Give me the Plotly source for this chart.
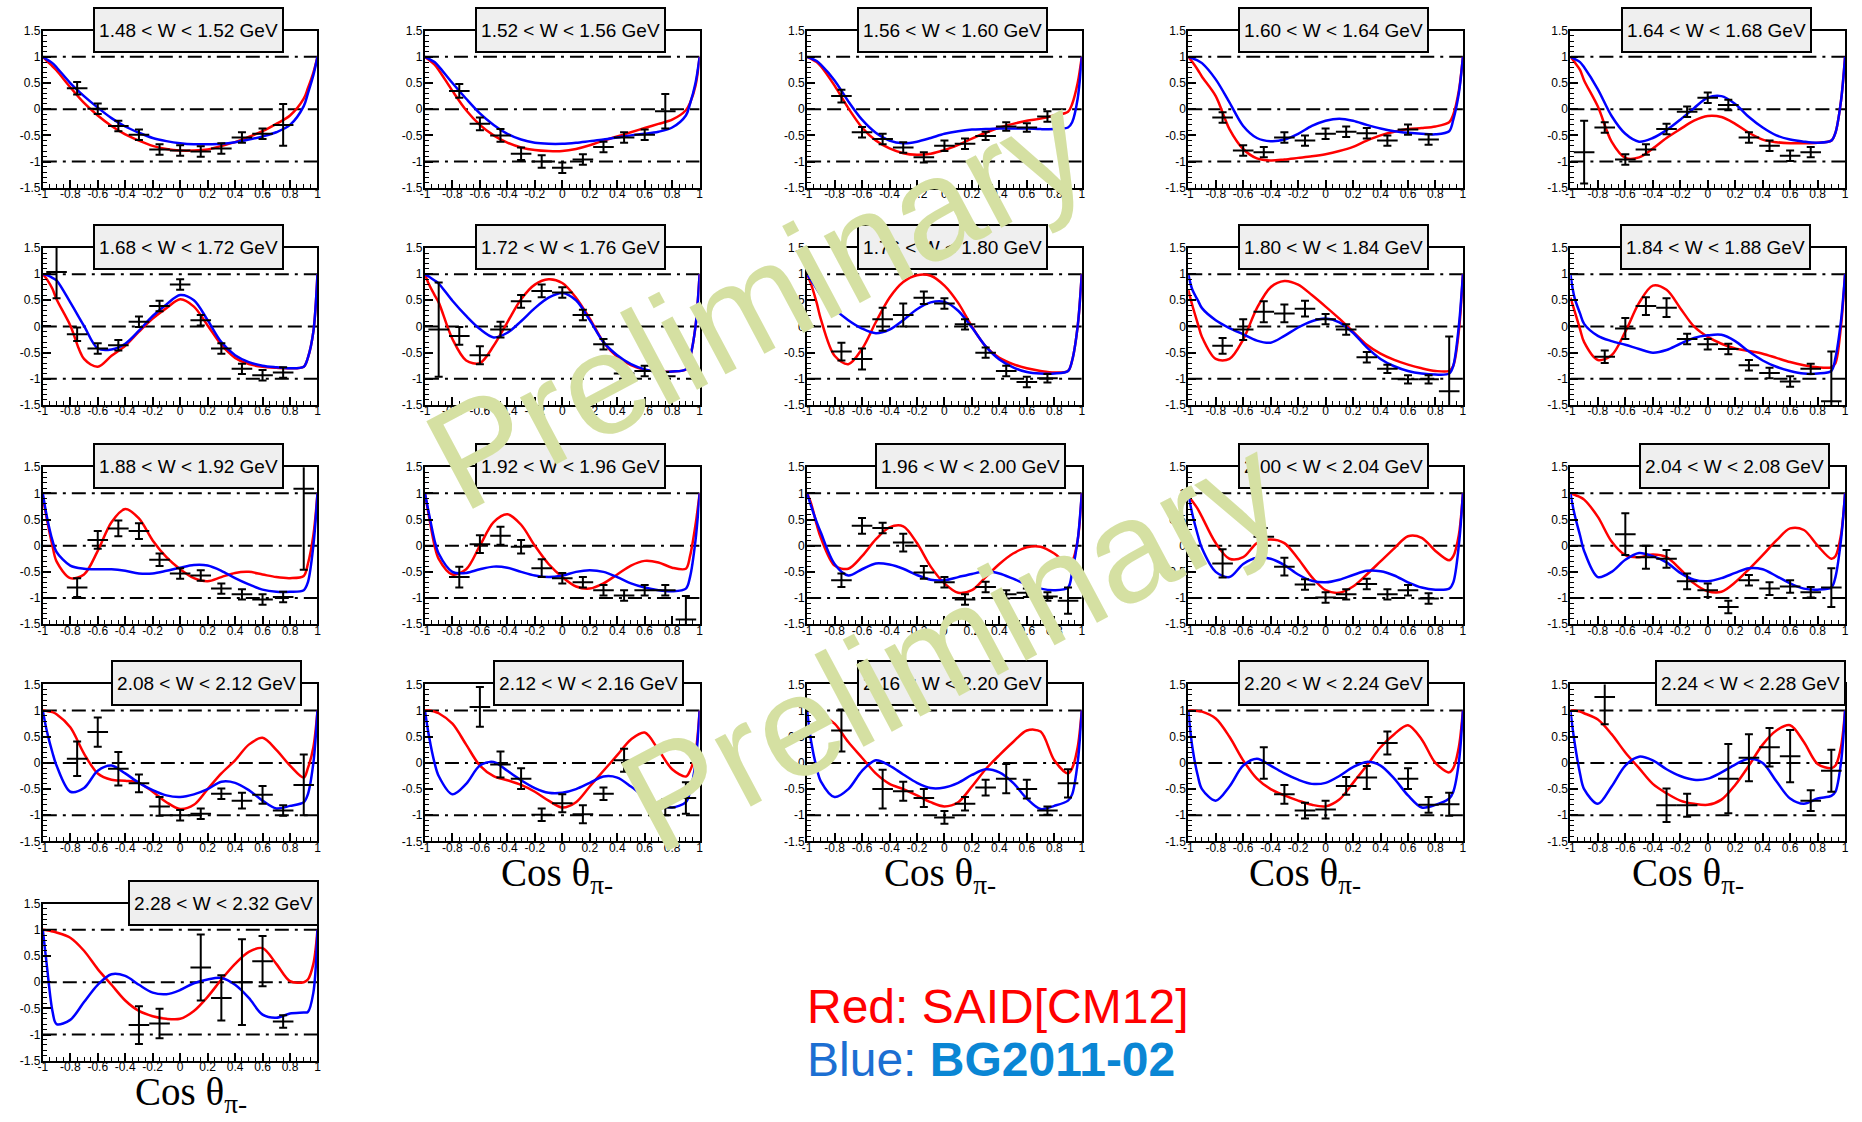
import plotly.graph_objects as go

# ---------------- data ----------------
TITLES = ["1.48 < W < 1.52 GeV", "1.52 < W < 1.56 GeV", "1.56 < W < 1.60 GeV", "1.60 < W < 1.64 GeV",
          "1.64 < W < 1.68 GeV", "1.68 < W < 1.72 GeV", "1.72 < W < 1.76 GeV", "1.76 < W < 1.80 GeV",
          "1.80 < W < 1.84 GeV", "1.84 < W < 1.88 GeV", "1.88 < W < 1.92 GeV", "1.92 < W < 1.96 GeV",
          "1.96 < W < 2.00 GeV", "2.00 < W < 2.04 GeV", "2.04 < W < 2.08 GeV", "2.08 < W < 2.12 GeV",
          "2.12 < W < 2.16 GeV", "2.16 < W < 2.20 GeV", "2.20 < W < 2.24 GeV", "2.24 < W < 2.28 GeV",
          "2.28 < W < 2.32 GeV"]

X_TICKS = [-1, -0.8, -0.6, -0.4, -0.2, 0, 0.2, 0.4, 0.6, 0.8, 1]
X_TICK_TEXT = ["-1", "-0.8", "-0.6", "-0.4", "-0.2", "0", "0.2", "0.4", "0.6", "0.8", "1"]
Y_TICKS = [-1.5, -1, -0.5, 0, 0.5, 1, 1.5]
Y_TICK_TEXT = ["-1.5", "-1", "-0.5", "0", "0.5", "1", "1.5"]
REF_LEVELS = [1, 0, -1]

X_BIN = [-0.9, -0.75, -0.6, -0.45, -0.3, -0.15, 0.0, 0.15, 0.3, 0.45, 0.6, 0.75, 0.9]
BIN_HALF = 0.075
X_CURVE = [-1, -0.97, -0.93, -0.9, -0.8, -0.7, -0.6, -0.5, -0.4, -0.3, -0.2, -0.1, 0,
           0.1, 0.2, 0.3, 0.4, 0.5, 0.6, 0.7, 0.8, 0.9, 0.93, 0.97, 1]

Y01 = [None, 0.4, 0.01, -0.32, -0.49, -0.77, -0.79, -0.81, -0.75, -0.54, -0.47, -0.3, None]
E01 = [None, 0.12, 0.1, 0.1, 0.1, 0.1, 0.1, 0.1, 0.1, 0.1, 0.1, 0.4, None]
RED01 = [1.0, 0.92, 0.82, 0.74, 0.42, 0.12, -0.12, -0.32, -0.48, -0.6, -0.7, -0.76, -0.79, -0.79, -0.77, -0.7, -0.63, -0.53, -0.42, -0.28, -0.12, 0.2, 0.4, 0.7, 1.0]
BLUE01 = [1.0, 0.95, 0.88, 0.8, 0.5, 0.25, 0.03, -0.17, -0.33, -0.45, -0.55, -0.61, -0.65, -0.67, -0.67, -0.66, -0.63, -0.58, -0.52, -0.44, -0.3, 0.06, 0.3, 0.65, 1.0]

Y02 = [None, 0.35, -0.28, -0.5, -0.85, -1.0, -1.12, -0.96, -0.72, -0.54, -0.49, -0.04, None]
E02 = [None, 0.13, 0.12, 0.12, 0.12, 0.12, 0.1, 0.1, 0.1, 0.1, 0.1, 0.33, None]
RED02 = [1.0, 0.94, 0.85, 0.75, 0.35, -0.02, -0.3, -0.5, -0.64, -0.73, -0.78, -0.8, -0.8, -0.76, -0.69, -0.6, -0.52, -0.44, -0.36, -0.28, -0.2, -0.02, 0.12, 0.45, 1.0]
BLUE02 = [1.0, 0.96, 0.9, 0.82, 0.5, 0.2, -0.08, -0.3, -0.47, -0.58, -0.64, -0.66, -0.66, -0.64, -0.61, -0.58, -0.54, -0.5, -0.47, -0.43, -0.35, -0.12, 0.1, 0.5, 1.0]

Y03 = [None, 0.25, -0.44, -0.57, -0.73, -0.92, -0.7, -0.66, -0.51, -0.33, -0.35, -0.14, None]
E03 = [None, 0.12, 0.1, 0.1, 0.1, 0.1, 0.1, 0.1, 0.08, 0.08, 0.08, 0.1, None]
RED03 = [1.0, 0.96, 0.9, 0.82, 0.45, 0.02, -0.35, -0.6, -0.75, -0.84, -0.87, -0.85, -0.78, -0.68, -0.56, -0.45, -0.35, -0.28, -0.22, -0.18, -0.12, -0.05, 0.1, 0.5, 1.0]
BLUE03 = [1.0, 0.97, 0.92, 0.85, 0.55, 0.15, -0.2, -0.45, -0.6, -0.65, -0.62, -0.55, -0.47, -0.42, -0.39, -0.38, -0.37, -0.37, -0.37, -0.38, -0.38, -0.35, -0.25, 0.2, 1.0]

Y04 = [None, -0.16, -0.79, -0.82, -0.54, -0.6, -0.47, -0.43, -0.46, -0.6, -0.39, -0.58, None]
E04 = [None, 0.1, 0.1, 0.1, 0.1, 0.1, 0.1, 0.1, 0.1, 0.1, 0.1, 0.1, None]
RED04 = [1.0, 0.9, 0.75, 0.62, 0.25, -0.38, -0.76, -0.94, -0.98, -0.96, -0.93, -0.9, -0.86, -0.8, -0.72, -0.6, -0.5, -0.43, -0.38, -0.36, -0.33, -0.25, -0.1, 0.35, 1.0]
BLUE04 = [1.0, 0.97, 0.93, 0.88, 0.57, 0.13, -0.32, -0.55, -0.61, -0.58, -0.47, -0.32, -0.22, -0.18, -0.22, -0.3, -0.37, -0.42, -0.45, -0.47, -0.48, -0.42, -0.2, 0.3, 1.0]

Y05 = [-0.82, -0.35, -0.96, -0.77, -0.38, -0.05, 0.22, 0.08, -0.54, -0.7, -0.89, -0.82, None]
E05 = [0.6, 0.1, 0.1, 0.1, 0.1, 0.1, 0.1, 0.1, 0.1, 0.1, 0.1, 0.1, None]
RED05 = [1.0, 0.9, 0.75, 0.55, 0.05, -0.62, -0.93, -0.92, -0.75, -0.55, -0.38, -0.22, -0.13, -0.15, -0.28, -0.45, -0.58, -0.63, -0.65, -0.65, -0.64, -0.6, -0.45, 0.15, 1.0]
BLUE05 = [1.0, 0.96, 0.9, 0.8, 0.38, -0.13, -0.47, -0.62, -0.55, -0.4, -0.2, 0.02, 0.22, 0.25, 0.1, -0.15, -0.35, -0.5, -0.58, -0.62, -0.64, -0.6, -0.45, 0.15, 1.0]

Y06 = [1.04, -0.15, -0.42, -0.36, 0.09, 0.39, 0.8, 0.12, -0.42, -0.81, -0.93, -0.88, None]
E06 = [0.5, 0.13, 0.1, 0.1, 0.1, 0.1, 0.1, 0.1, 0.1, 0.1, 0.1, 0.1, None]
RED06 = [1.0, 0.9, 0.72, 0.52, 0.02, -0.62, -0.77, -0.56, -0.37, -0.1, 0.15, 0.35, 0.52, 0.38, 0.02, -0.35, -0.6, -0.72, -0.77, -0.79, -0.8, -0.77, -0.6, -0.1, 1.0]
BLUE06 = [1.0, 0.98, 0.93, 0.88, 0.46, 0.01, -0.42, -0.44, -0.33, -0.08, 0.2, 0.42, 0.6, 0.5, 0.12, -0.3, -0.55, -0.68, -0.75, -0.78, -0.8, -0.77, -0.6, -0.1, 1.0]

Y07 = [-0.06, -0.18, -0.55, -0.06, 0.48, 0.68, 0.65, 0.22, -0.34, -0.9, -0.85, -0.95, None]
E07 = [0.9, 0.17, 0.17, 0.15, 0.12, 0.12, 0.1, 0.1, 0.1, 0.1, 0.1, 0.08, None]
RED07 = [1.0, 0.8, 0.6, 0.46, -0.24, -0.65, -0.7, -0.37, 0.08, 0.52, 0.8, 0.9, 0.83, 0.55, 0.15, -0.3, -0.58, -0.74, -0.83, -0.86, -0.86, -0.82, -0.6, 0.0, 1.0]
BLUE07 = [1.0, 0.95, 0.88, 0.82, 0.49, 0.2, -0.05, -0.21, -0.12, 0.1, 0.35, 0.55, 0.64, 0.5, 0.12, -0.3, -0.55, -0.72, -0.82, -0.87, -0.86, -0.82, -0.6, 0.0, 1.0]

Y08 = [None, -0.48, -0.62, 0.14, 0.22, 0.55, 0.44, 0.04, -0.5, -0.85, -1.06, -0.99, None]
E08 = [None, 0.17, 0.2, 0.22, 0.22, 0.12, 0.1, 0.1, 0.1, 0.1, 0.1, 0.08, None]
RED08 = [1.0, 0.8, 0.45, 0.14, -0.56, -0.72, -0.43, 0.08, 0.55, 0.85, 0.98, 0.97, 0.78, 0.45, 0.0, -0.38, -0.6, -0.72, -0.8, -0.85, -0.88, -0.85, -0.65, 0.0, 1.0]
BLUE08 = [1.0, 0.88, 0.72, 0.6, 0.33, 0.12, -0.04, -0.13, -0.06, 0.12, 0.33, 0.46, 0.47, 0.3, -0.02, -0.38, -0.63, -0.78, -0.87, -0.9, -0.9, -0.85, -0.65, 0.0, 1.0]

Y09 = [None, -0.37, -0.06, 0.28, 0.25, 0.34, 0.14, -0.06, -0.59, -0.81, -1.01, -1.01, -1.24]
E09 = [None, 0.15, 0.2, 0.2, 0.17, 0.15, 0.1, 0.1, 0.1, 0.08, 0.08, 0.08, 1.05]
RED09 = [0.7, 0.4, 0.05, -0.2, -0.62, -0.62, -0.25, 0.35, 0.75, 0.87, 0.8, 0.6, 0.38, 0.15, -0.1, -0.35, -0.52, -0.64, -0.73, -0.8, -0.85, -0.85, -0.75, -0.1, 1.0]
BLUE09 = [1.0, 0.7, 0.5, 0.35, 0.12, -0.03, -0.15, -0.27, -0.31, -0.18, -0.02, 0.1, 0.15, 0.08, -0.12, -0.4, -0.62, -0.76, -0.85, -0.9, -0.92, -0.9, -0.75, 0.0, 1.0]

Y10 = [None, -0.58, -0.04, 0.39, 0.36, -0.24, -0.34, -0.43, -0.74, -0.89, -1.05, -0.81, -1.43]
E10 = [None, 0.12, 0.2, 0.17, 0.18, 0.1, 0.1, 0.1, 0.1, 0.1, 0.1, 0.1, 0.95]
RED10 = [0.55, 0.3, -0.05, -0.3, -0.64, -0.55, -0.1, 0.45, 0.78, 0.7, 0.35, 0.0, -0.2, -0.33, -0.42, -0.47, -0.52, -0.6, -0.68, -0.74, -0.78, -0.78, -0.7, 0.0, 1.0]
BLUE10 = [1.0, 0.55, 0.25, 0.05, -0.18, -0.28, -0.35, -0.43, -0.5, -0.45, -0.33, -0.22, -0.17, -0.16, -0.28, -0.48, -0.65, -0.77, -0.85, -0.9, -0.9, -0.85, -0.6, 0.1, 1.0]

Y11 = [None, -0.8, 0.11, 0.33, 0.28, -0.27, -0.53, -0.57, -0.82, -0.93, -1.03, -0.98, 1.09]
E11 = [None, 0.18, 0.17, 0.15, 0.15, 0.12, 0.1, 0.1, 0.1, 0.1, 0.1, 0.1, 1.55]
RED11 = [0.95, 0.5, 0.0, -0.3, -0.62, -0.55, -0.1, 0.45, 0.7, 0.52, 0.1, -0.22, -0.45, -0.62, -0.68, -0.6, -0.52, -0.5, -0.55, -0.6, -0.62, -0.58, -0.35, 0.2, 1.0]
BLUE11 = [1.0, 0.55, 0.1, -0.12, -0.38, -0.44, -0.45, -0.45, -0.48, -0.53, -0.53, -0.48, -0.42, -0.37, -0.38, -0.48, -0.62, -0.74, -0.84, -0.88, -0.88, -0.85, -0.7, 0.0, 1.0]

Y12 = [None, -0.6, 0.03, 0.19, -0.02, -0.43, -0.62, -0.7, -0.85, -0.95, -0.85, -0.85, -1.41]
E12 = [None, 0.2, 0.17, 0.17, 0.13, 0.17, 0.1, 0.1, 0.1, 0.1, 0.1, 0.1, 0.45]
RED12 = [1.0, 0.55, 0.0, -0.25, -0.55, -0.45, 0.0, 0.45, 0.6, 0.4, 0.0, -0.35, -0.6, -0.78, -0.82, -0.72, -0.55, -0.38, -0.29, -0.32, -0.42, -0.44, -0.2, 0.4, 1.0]
BLUE12 = [1.0, 0.6, 0.1, -0.15, -0.5, -0.52, -0.45, -0.4, -0.42, -0.5, -0.57, -0.6, -0.57, -0.5, -0.47, -0.5, -0.6, -0.72, -0.8, -0.85, -0.87, -0.82, -0.6, 0.1, 1.0]

Y13 = [None, -0.66, 0.38, 0.34, 0.06, -0.51, -0.7, -1.03, -0.79, -0.93, -0.9, -0.97, -1.05]
E13 = [None, 0.13, 0.15, 0.1, 0.17, 0.12, 0.1, 0.1, 0.1, 0.08, 0.08, 0.08, 0.25]
RED13 = [1.0, 0.8, 0.4, 0.15, -0.38, -0.44, -0.2, 0.12, 0.35, 0.37, 0.05, -0.4, -0.72, -0.9, -0.85, -0.6, -0.35, -0.15, -0.03, -0.02, -0.15, -0.35, -0.3, 0.1, 1.0]
BLUE13 = [1.0, 0.75, 0.45, 0.25, -0.35, -0.57, -0.45, -0.34, -0.36, -0.44, -0.56, -0.65, -0.66, -0.6, -0.54, -0.49, -0.53, -0.63, -0.74, -0.82, -0.85, -0.8, -0.5, 0.1, 1.0]

Y14 = [None, -0.34, None, 0.17, -0.4, -0.74, -0.99, -0.93, -0.73, -0.93, -0.85, -1.01, None]
E14 = [None, 0.27, None, 0.17, 0.17, 0.1, 0.1, 0.1, 0.1, 0.1, 0.1, 0.1, None]
RED14 = [0.95, 0.85, 0.7, 0.55, 0.05, -0.25, -0.22, 0.05, 0.12, 0.05, -0.25, -0.6, -0.85, -0.9, -0.78, -0.55, -0.3, -0.05, 0.18, 0.15, -0.1, -0.28, -0.2, 0.2, 1.0]
BLUE14 = [1.0, 0.6, 0.2, -0.05, -0.5, -0.6, -0.35, -0.23, -0.25, -0.37, -0.55, -0.67, -0.7, -0.65, -0.56, -0.48, -0.49, -0.57, -0.7, -0.8, -0.84, -0.82, -0.7, 0.0, 1.0]

Y15 = [None, None, 0.22, -0.22, -0.25, -0.68, -0.85, -1.17, -0.66, -0.82, -0.78, -0.89, -0.8]
E15 = [None, None, 0.4, 0.22, 0.17, 0.15, 0.13, 0.12, 0.1, 0.12, 0.12, 0.1, 0.37]
RED15 = [1.0, 0.97, 0.93, 0.88, 0.55, 0.08, -0.18, -0.22, -0.17, -0.22, -0.45, -0.72, -0.87, -0.88, -0.7, -0.45, -0.18, 0.1, 0.33, 0.3, 0.0, -0.25, -0.2, 0.2, 1.0]
BLUE15 = [1.0, 0.6, 0.2, -0.1, -0.6, -0.5, -0.27, -0.14, -0.2, -0.32, -0.52, -0.65, -0.68, -0.62, -0.52, -0.43, -0.45, -0.58, -0.72, -0.82, -0.84, -0.8, -0.6, 0.1, 1.0]

Y16 = [None, 0.08, 0.59, -0.11, -0.39, -0.83, -1.0, -0.97, -0.59, -0.72, -0.61, -0.91, -0.42]
E16 = [None, 0.33, 0.28, 0.32, 0.17, 0.18, 0.1, 0.1, 0.1, 0.15, 0.17, 0.1, 0.58]
RED16 = [1.0, 0.99, 0.97, 0.93, 0.68, 0.18, -0.2, -0.32, -0.34, -0.38, -0.55, -0.75, -0.88, -0.8, -0.5, -0.2, 0.05, 0.35, 0.48, 0.25, -0.05, -0.28, -0.1, 0.3, 1.0]
BLUE16 = [1.0, 0.6, 0.2, -0.05, -0.55, -0.48, -0.15, -0.05, -0.2, -0.38, -0.52, -0.62, -0.65, -0.6, -0.5, -0.36, -0.38, -0.52, -0.72, -0.87, -0.82, -0.75, -0.6, 0.0, 1.0]

Y17 = [None, None, 1.07, -0.03, -0.3, -0.99, -0.77, -0.98, -0.59, 0.05, None, -0.85, -0.67]
E17 = [None, None, 0.38, 0.25, 0.2, 0.12, 0.17, 0.17, 0.12, 0.22, None, 0.15, 0.3]
RED17 = [1.0, 1.0, 0.98, 0.95, 0.75, 0.35, -0.05, -0.25, -0.33, -0.42, -0.55, -0.72, -0.85, -0.75, -0.45, -0.15, 0.15, 0.45, 0.58, 0.25, -0.12, -0.26, -0.15, 0.2, 1.0]
BLUE17 = [1.0, 0.5, 0.0, -0.25, -0.6, -0.4, -0.05, 0.02, -0.15, -0.33, -0.48, -0.57, -0.57, -0.5, -0.38, -0.26, -0.28, -0.45, -0.65, -0.8, -0.85, -0.75, -0.55, 0.0, 1.0]

Y18 = [None, 0.62, None, -0.5, -0.54, -0.67, -1.04, -0.78, -0.47, -0.3, -0.5, -0.91, -0.39]
E18 = [None, 0.4, None, 0.37, 0.18, 0.17, 0.12, 0.13, 0.15, 0.28, 0.18, 0.08, 0.27]
RED18 = [1.0, 0.98, 0.95, 0.93, 0.75, 0.4, 0.1, -0.2, -0.4, -0.5, -0.62, -0.75, -0.83, -0.75, -0.45, -0.12, 0.15, 0.4, 0.62, 0.6, 0.05, -0.2, -0.1, 0.3, 1.0]
BLUE18 = [1.0, 0.4, -0.1, -0.35, -0.65, -0.5, -0.15, 0.05, -0.05, -0.22, -0.38, -0.48, -0.47, -0.38, -0.23, -0.12, -0.18, -0.38, -0.68, -0.88, -0.82, -0.72, -0.6, 0.0, 1.0]

Y19 = [None, None, None, 0.0, -0.6, -0.91, -0.89, -0.44, -0.28, 0.38, -0.3, -0.8, -0.79]
E19 = [None, None, None, 0.3, 0.18, 0.15, 0.17, 0.17, 0.22, 0.22, 0.2, 0.15, 0.22]
RED19 = [1.0, 1.0, 0.99, 0.98, 0.85, 0.5, 0.05, -0.3, -0.5, -0.62, -0.72, -0.8, -0.83, -0.7, -0.38, -0.05, 0.3, 0.55, 0.72, 0.45, 0.0, -0.18, -0.1, 0.3, 1.0]
BLUE19 = [1.0, 0.3, -0.25, -0.5, -0.72, -0.45, -0.05, 0.08, -0.05, -0.2, -0.32, -0.4, -0.38, -0.25, -0.08, 0.02, -0.05, -0.3, -0.62, -0.85, -0.8, -0.68, -0.55, 0.0, 1.0]

Y20 = [None, 1.26, None, None, -0.81, -0.81, None, -0.3, 0.1, 0.3, 0.13, -0.72, -0.15]
E20 = [None, 0.52, None, None, 0.32, 0.22, None, 0.66, 0.45, 0.37, 0.5, 0.2, 0.4]
RED20 = [1.0, 1.0, 0.98, 0.95, 0.83, 0.55, 0.2, -0.1, -0.4, -0.58, -0.72, -0.78, -0.8, -0.7, -0.42, -0.05, 0.35, 0.62, 0.72, 0.4, -0.02, -0.1, -0.05, 0.3, 1.0]
BLUE20 = [1.0, 0.4, -0.2, -0.5, -0.78, -0.45, -0.05, 0.12, 0.05, -0.12, -0.25, -0.32, -0.3, -0.18, -0.03, 0.08, 0.0, -0.35, -0.68, -0.78, -0.68, -0.63, -0.55, 0.0, 1.0]

Y21 = [None, None, None, None, -0.82, -0.79, None, 0.28, -0.3, 0.0, 0.4, -0.75, None]
E21 = [None, None, None, None, 0.36, 0.28, None, 0.63, 0.43, 0.82, 0.48, 0.12, None]
RED21 = [1.0, 0.99, 0.97, 0.95, 0.85, 0.6, 0.25, -0.05, -0.35, -0.55, -0.65, -0.7, -0.7, -0.55, -0.28, 0.05, 0.35, 0.58, 0.65, 0.35, 0.02, 0.0, 0.05, 0.35, 1.0]
BLUE21 = [1.0, 0.3, -0.55, -0.8, -0.72, -0.38, -0.05, 0.15, 0.12, -0.05, -0.2, -0.23, -0.15, -0.02, 0.05, 0.08, -0.05, -0.3, -0.62, -0.68, -0.6, -0.58, -0.57, -0.2, 1.0]

Y_DATA = [Y01, Y02, Y03, Y04, Y05, Y06, Y07, Y08, Y09, Y10, Y11, Y12, Y13, Y14, Y15, Y16, Y17, Y18, Y19, Y20, Y21]
E_DATA = [E01, E02, E03, E04, E05, E06, E07, E08, E09, E10, E11, E12, E13, E14, E15, E16, E17, E18, E19, E20, E21]
RED_CURVES = [RED01, RED02, RED03, RED04, RED05, RED06, RED07, RED08, RED09, RED10, RED11, RED12, RED13, RED14,
              RED15, RED16, RED17, RED18, RED19, RED20, RED21]
BLUE_CURVES = [BLUE01, BLUE02, BLUE03, BLUE04, BLUE05, BLUE06, BLUE07, BLUE08, BLUE09, BLUE10, BLUE11, BLUE12,
               BLUE13, BLUE14, BLUE15, BLUE16, BLUE17, BLUE18, BLUE19, BLUE20, BLUE21]

# ---------------- layout constants ----------------
FIG_W, FIG_H = 1862, 1122
COL_LEFT = [38, 422, 806, 1189, 1573]
ROW_TOP = [24, 244, 466, 686, 908]
PANEL_W, PANEL_H = 276, 159
TITLE_OFFSET = [146, 146, 146, 146, 147,
                146, 146, 146, 146, 146,
                146, 146, 164, 146, 165,
                164, 164, 146, 146, 181,
                182]
COS_LABEL_POS = [(555, 879), (940, 879), (1306, 879), (1691, 879), (187, 1101)]
RED = "#ff0000"
BLUE = "#0000ff"
FONT = "Liberation Sans, Arial, Helvetica, sans-serif"

fig = go.Figure()
layout = dict(width=FIG_W, height=FIG_H, margin=dict(l=0, r=0, t=0, b=0),
              paper_bgcolor="white", plot_bgcolor="white", showlegend=False)
shapes = []
annotations = []

for i in range(21):
    row, col = divmod(i, 5)
    left = COL_LEFT[col]
    top = ROW_TOP[row]
    sfx = "" if i == 0 else str(i + 1)
    xref, yref = "x" + sfx, "y" + sfx
    layout["xaxis" + sfx] = dict(
        domain=[left / FIG_W, (left + PANEL_W) / FIG_W], range=[-1, 1], anchor=yref,
        showgrid=False, zeroline=False, showline=True, mirror=True, linecolor="black", linewidth=2,
        ticks="inside", ticklen=8, tickwidth=1.5, tickcolor="black",
        tickvals=X_TICKS, ticktext=X_TICK_TEXT, tickfont=dict(family=FONT, size=12, color="black"),
        ticklabelstandoff=-6,
        minor=dict(ticks="inside", ticklen=4, dtick=0.05, tickcolor="black", tickwidth=1, showgrid=False),
        fixedrange=True)
    layout["yaxis" + sfx] = dict(
        domain=[1 - (top + PANEL_H) / FIG_H, 1 - top / FIG_H], range=[-1.5, 1.5], anchor=xref,
        showgrid=False, zeroline=False, showline=True, mirror=True, linecolor="black", linewidth=2,
        ticks="inside", ticklen=8, tickwidth=1.5, tickcolor="black",
        tickvals=Y_TICKS, ticktext=Y_TICK_TEXT, tickfont=dict(family=FONT, size=12, color="black"),
        ticklabelstandoff=-2,
        minor=dict(ticks="inside", ticklen=4, dtick=0.1, tickcolor="black", tickwidth=1, showgrid=False),
        fixedrange=True)

    for lvl in REF_LEVELS:
        dash = "14px,6px,3px,6px" if lvl != 0 else "14px,6px,14px,6px,3px,6px"
        shapes.append(dict(type="line", xref=xref, yref=yref, x0=-1, x1=1, y0=lvl, y1=lvl,
                           line=dict(color="black", width=2, dash=dash), layer="below"))

    fig.add_trace(go.Scatter(x=X_CURVE, y=RED_CURVES[i], mode="lines", xaxis=xref, yaxis=yref,
                             line=dict(color=RED, width=2.5, shape="spline", smoothing=0.9),
                             hoverinfo="skip"))
    fig.add_trace(go.Scatter(x=X_CURVE, y=BLUE_CURVES[i], mode="lines", xaxis=xref, yaxis=yref,
                             line=dict(color=BLUE, width=2.5, shape="spline", smoothing=0.9),
                             hoverinfo="skip"))

    xs = [x for x, y in zip(X_BIN, Y_DATA[i]) if y is not None]
    ys = [y for y in Y_DATA[i] if y is not None]
    es = [e for y, e in zip(Y_DATA[i], E_DATA[i]) if y is not None]
    fig.add_trace(go.Scatter(x=xs, y=ys, mode="markers", xaxis=xref, yaxis=yref,
                             marker=dict(size=2, color="black"),
                             error_x=dict(type="constant", value=BIN_HALF, width=0, thickness=2, color="black"),
                             error_y=dict(type="data", array=es, width=4, thickness=2, color="black"),
                             hoverinfo="skip"))

    annotations.append(dict(text=TITLES[i], xref="paper", yref="paper",
                            x=(left + TITLE_OFFSET[i]) / FIG_W, y=1 - (top - 1) / FIG_H,
                            xanchor="center", yanchor="middle", showarrow=False,
                            font=dict(family=FONT, size=19, color="black"),
                            bgcolor="#efefef", bordercolor="black", borderwidth=2, borderpad=2,
                            width=183, height=38))

for (cx, cy) in COS_LABEL_POS:
    annotations.append(dict(text="Cos θ<sub>π-</sub>", xref="paper", yref="paper",
                            x=cx / FIG_W, y=1 - cy / FIG_H, xanchor="center", yanchor="middle",
                            showarrow=False,
                            font=dict(family="Liberation Serif, Times New Roman, serif", size=39, color="black")))

annotations.append(dict(text="Red: SAID[CM12]", xref="paper", yref="paper",
                        x=804 / FIG_W, y=1 - 1012 / FIG_H, xanchor="left", yanchor="middle", showarrow=False,
                        font=dict(family=FONT, size=48, color="#ff0000")))
annotations.append(dict(text="Blue: <span style='color:#0a86d4'><b>BG2011-02</b></span>",
                        xref="paper", yref="paper",
                        x=804 / FIG_W, y=1 - 1066 / FIG_H, xanchor="left", yanchor="middle", showarrow=False,
                        font=dict(family=FONT, size=48, color="#1c6fd2")))

for (wx, wy) in [(756, 298), (952, 645)]:
    annotations.append(dict(text="Preliminary", xref="paper", yref="paper",
                            x=wx / FIG_W, y=1 - wy / FIG_H, xanchor="center", yanchor="middle",
                            showarrow=False, textangle=-28,
                            font=dict(family=FONT, size=144, color="#d5e0a2")))

layout["shapes"] = shapes
layout["annotations"] = annotations
fig.update_layout(**layout)
fig.write_html("out.html")
